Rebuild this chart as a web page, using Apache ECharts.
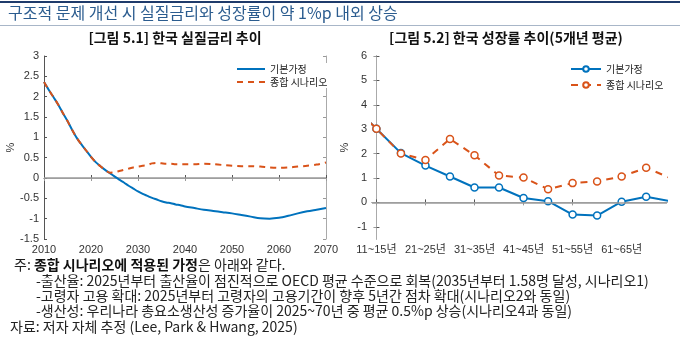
<!DOCTYPE html>
<html><head><meta charset="utf-8">
<script src="https://cdn.jsdelivr.net/npm/echarts@6/dist/echarts.min.js"></script>
<style>html,body{margin:0;padding:0;background:#fff}#c{width:680px;height:339px}</style>
</head><body><div id="c"></div>
<script>
// ---- Data: Figure 5.1 real interest rate (%) ----
const years = [2010,2011,2012,2013,2014,2015,2016,2017,2018,2019,2020,2021,2022,2023,2024,2025,2026,2027,2028,2029,2030,2031,2032,2033,2034,2035,2036,2037,2038,2039,2040,2042,2044,2046,2048,2050,2052,2054,2056,2058,2060,2062,2064,2066,2068,2070];
const rateBase = [2.36,2.17,1.99,1.81,1.60,1.40,1.18,0.98,0.82,0.67,0.52,0.39,0.29,0.20,0.12,0.04,-0.04,-0.11,-0.19,-0.26,-0.33,-0.39,-0.44,-0.49,-0.53,-0.57,-0.60,-0.62,-0.65,-0.67,-0.70,-0.74,-0.78,-0.81,-0.84,-0.87,-0.91,-0.95,-0.99,-1.00,-0.98,-0.93,-0.87,-0.82,-0.78,-0.74];
const rateScen = [2.36,2.17,1.99,1.81,1.60,1.40,1.18,0.98,0.82,0.67,0.52,0.39,0.29,0.20,0.13,0.14,0.17,0.20,0.23,0.26,0.28,0.30,0.32,0.36,0.37,0.36,0.35,0.35,0.34,0.34,0.34,0.34,0.35,0.34,0.32,0.30,0.29,0.29,0.28,0.26,0.25,0.26,0.28,0.30,0.33,0.38];
// ---- Data: Figure 5.2 growth rate, 5-year average (%) ----
const periods = ['06~10년','11~15년','16~20년','21~25년','26~30년','31~35년','36~40년','41~45년','46~50년','51~55년','56~60년','61~65년','66~70년','71~75년'];
const growthBase = [4.0,3.02,2.02,1.51,1.06,0.61,0.61,0.18,0.05,-0.50,-0.54,0.03,0.23,0.05];
const growthScen = [4.0,3.02,2.00,1.74,2.60,1.93,1.10,1.02,0.54,0.79,0.86,1.06,1.42,0.99];
const periodTickIdx = [1,3,5,7,9,11];
const rightYTicks = [-1,0,1,2,3,4,5,6];
const seriesNames = ['기본가정','종합 시나리오'];

const BLUE = '#0072BD', ORANGE = '#D95319';
const FONT = "'Liberation Sans','Noto Sans CJK KR',sans-serif";
const KFONT = "'Noto Sans CJK KR',sans-serif";
const NOTEFONT = "14px 'Noto Sans CJK KR',sans-serif";

const chart = echarts.init(document.getElementById('c'), null, {renderer:'canvas'});

const tickIn = {show:true, inside:true, length:3, lineStyle:{color:'#555'}};
const tickIn2 = {show:true, inside:true, length:3, lineStyle:{color:'#999'}};
const labelStyle = {color:'#333', fontSize:11, fontFamily:FONT};

const option = {
  animation:false,
  textStyle:{fontFamily:FONT},
  grid:[
    {left:44, right:354, top:56, bottom:100},
    {left:372, right:13, top:56, bottom:100}
  ],
  xAxis:[
    {gridIndex:0, type:'value', min:2010, max:2070, interval:10, position:'bottom',
     axisLine:{lineStyle:{color:'#555'}}, axisTick:tickIn, splitLine:{show:false},
     axisLabel:Object.assign({margin:5, formatter:v=>String(v)}, labelStyle)},
    {gridIndex:0, type:'value', min:2010, max:2070, interval:10, position:'top',
     axisLine:{lineStyle:{color:'#aaa'}}, axisTick:tickIn2, axisLabel:{show:false}, splitLine:{show:false}},
    {gridIndex:1, type:'value', min:-0.18, max:11.85, position:'bottom',
     axisLine:{lineStyle:{color:'#555'}},
     axisTick:Object.assign({customValues:periodTickIdx.map(i=>i-1)}, tickIn),
     splitLine:{show:false},
     axisLabel:Object.assign({margin:5, customValues:periodTickIdx.map(i=>i-1), formatter:v=>periods[Math.round(v)+1]}, labelStyle)},
    {gridIndex:1, type:'value', min:-0.18, max:11.85, position:'top',
     axisLine:{lineStyle:{color:'#aaa'}},
     axisTick:Object.assign({customValues:periodTickIdx.map(i=>i-1)}, tickIn2),
     axisLabel:{show:false}, splitLine:{show:false}}
  ],
  yAxis:[
    {gridIndex:0, type:'value', min:-1.5, max:3, interval:0.5, position:'left',
     name:'%', nameLocation:'middle', nameGap:26, nameRotate:90, nameTextStyle:{color:'#333',fontSize:11},
     axisLine:{show:true,lineStyle:{color:'#555'}}, axisTick:tickIn, splitLine:{show:false},
     axisLabel:Object.assign({margin:5}, labelStyle)},
    {gridIndex:0, type:'value', min:-1.5, max:3, interval:0.5, position:'right',
     axisLine:{show:true,lineStyle:{color:'#aaa'}}, axisTick:tickIn2, axisLabel:{show:false}, splitLine:{show:false}},
    {gridIndex:1, type:'value', min:-1.5, max:6, position:'left',
     name:'%', nameLocation:'middle', nameGap:22, nameRotate:90, nameTextStyle:{color:'#333',fontSize:11},
     axisLine:{show:true,lineStyle:{color:'#555'}},
     axisTick:Object.assign({customValues:rightYTicks}, tickIn), splitLine:{show:false},
     axisLabel:Object.assign({margin:5, customValues:rightYTicks}, labelStyle)},
    {gridIndex:1, type:'value', min:-1.5, max:6, position:'right',
     axisLine:{show:true,lineStyle:{color:'#aaa'}},
     axisTick:Object.assign({customValues:rightYTicks}, tickIn2),
     axisLabel:{show:false}, splitLine:{show:false}}
  ],
  legend:[
    {data:[seriesNames[0], seriesNames[1]], orient:'vertical', left:234, top:63, itemWidth:28, itemHeight:10, itemGap:3,
     itemStyle:{opacity:0},
     textStyle:{fontSize:10, color:'#222', fontFamily:KFONT}, backgroundColor:'#fff', padding:[1,2]},
    {data:[seriesNames[0]+' ', seriesNames[1]+' '], orient:'vertical', left:568, top:63, itemWidth:30, itemHeight:7, itemGap:6,
     textStyle:{fontSize:10, color:'#222', fontFamily:KFONT}, backgroundColor:'#fff', padding:[1,2]}
  ],
  series:[
    {name:seriesNames[0], type:'line', xAxisIndex:0, yAxisIndex:0, symbol:'none', smooth:0.3,
     data:years.map((y,i)=>[y, rateBase[i]]), lineStyle:{color:BLUE, width:2}, itemStyle:{color:BLUE},
     markLine:{silent:true, symbol:'none', label:{show:false}, lineStyle:{color:'#9a9a9a', width:1.5, type:'solid'}, data:[{yAxis:0}], z:1}, z:3},
    {name:seriesNames[1], type:'line', xAxisIndex:0, yAxisIndex:0, symbol:'none', smooth:0.3,
     data:years.map((y,i)=>[y, rateScen[i]]), lineStyle:{color:ORANGE, width:2, type:[6,5]}, itemStyle:{color:ORANGE}, z:4},
    {name:seriesNames[0]+' ', type:'line', xAxisIndex:2, yAxisIndex:2, symbol:'circle', symbolSize:7, clip:true,
     data:periods.map((p,i)=>[i-1, growthBase[i]]), lineStyle:{color:BLUE, width:2},
     itemStyle:{color:'#fff', borderColor:BLUE, borderWidth:1.5},
     markLine:{silent:true, symbol:'none', label:{show:false}, lineStyle:{color:'#9a9a9a', width:1.5, type:'solid'}, data:[{yAxis:0}]}, z:3},
    {name:seriesNames[1]+' ', type:'line', xAxisIndex:2, yAxisIndex:2, symbol:'circle', symbolSize:7, clip:true,
     data:periods.map((p,i)=>[i-1, growthScen[i]]), lineStyle:{color:ORANGE, width:2, type:[7,6]},
     itemStyle:{color:'#fff', borderColor:ORANGE, borderWidth:1.5}, z:4}
  ],
  graphic:[
    {type:'rect', shape:{x:0,y:1,width:680,height:2}, style:{fill:'#1f3b6b'}},
    {type:'text', left:8, top:5, style:{text:'구조적 문제 개선 시 실질금리와 성장률이 약 1%p 내외 상승', fill:'#2b5c8f', font:"16px 'Noto Sans CJK KR'"}},
    {type:'rect', shape:{x:0,y:25,width:680,height:1}, style:{fill:'#a8b6c8'}},
    {type:'text', x:175, y:38, style:{text:'[그림 5.1] 한국 실질금리 추이', fill:'#111', font:"bold 14px 'Noto Sans CJK KR'", align:'center', verticalAlign:'middle'}},
    {type:'text', x:506, y:38, style:{text:'[그림 5.2] 한국 성장률 추이(5개년 평균)', fill:'#111', font:"bold 14px 'Noto Sans CJK KR'", align:'center', verticalAlign:'middle'}},
    {type:'text', x:14, y:265, style:{text:'{n|주: }{b|종합 시나리오에 적용된 가정}{n|은 아래와 같다.}', verticalAlign:'middle',
      rich:{n:{fontSize:14, fontFamily:KFONT, fill:'#222'}, b:{fontSize:14, fontFamily:KFONT, fontWeight:'bold', fill:'#111'}}}},
    {type:'text', x:36, y:281, style:{text:'-출산율: 2025년부터 출산율이 점진적으로 OECD 평균 수준으로 회복(2035년부터 1.58명 달성, 시나리오1)', fill:'#222', font:NOTEFONT, verticalAlign:'middle'}},
    {type:'text', x:36, y:296, style:{text:'-고령자 고용 확대: 2025년부터 고령자의 고용기간이 향후 5년간 점차 확대(시나리오2와 동일)', fill:'#222', font:NOTEFONT, verticalAlign:'middle'}},
    {type:'text', x:36, y:311, style:{text:'-생산성: 우리나라 총요소생산성 증가율이 2025~70년 중 평균 0.5%p 상승(시나리오4과 동일)', fill:'#222', font:NOTEFONT, verticalAlign:'middle'}},
    {type:'text', x:10, y:327, style:{text:'자료: 저자 자체 추정 (Lee, Park & Hwang, 2025)', fill:'#222', font:NOTEFONT, verticalAlign:'middle'}}
  ]
};
chart.setOption(option);
</script></body></html>
